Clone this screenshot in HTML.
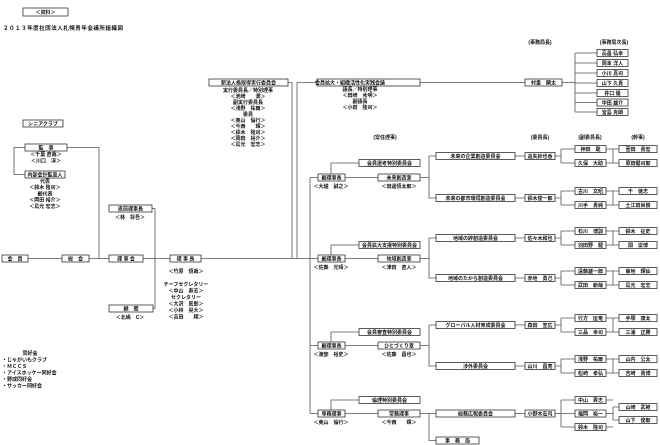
<!DOCTYPE html>
<html><head><meta charset="utf-8"><style>
html,body{margin:0;padding:0;background:#fff;width:660px;height:445px;overflow:hidden}
svg{display:block}
text{font-family:"Liberation Sans","Noto Sans CJK JP",sans-serif;font-size:5px;font-weight:bold;fill:#111;text-anchor:middle}
.l{text-anchor:start}
rect{fill:#fff;stroke:#333;stroke-width:.8}
path{fill:none;stroke:#555;stroke-width:.8}
</style></head><body>
<svg width="660" height="445" viewBox="0 0 660 445">
<rect x="23" y="8" width="45" height="8"/><text x="45.5" y="13.8">＜資料＞</text>
<text class="l" x="3" y="30" style="font-size:5.5px" textLength="120">２０１３年度社団法人札幌青年会議所組織図</text>

<!-- left -->
<rect x="23" y="120" width="40" height="7"/><text x="43" y="125.3">シニアクラブ</text>
<path d="M25 147.5H14V174.5H25 M67 147.5H99V258.5"/>
<rect x="25" y="144" width="42" height="7"/><text x="46" y="149.3">監　事</text>
<text x="46" y="156">＜千葉 直哉＞</text><text x="46" y="162.5">＜川口　淳＞</text>
<rect x="25" y="171" width="40" height="7"/><text x="45" y="176.3">内部会計監査人</text>
<text x="45" y="183">代表</text><text x="45" y="189">＜鈴木 隆司＞</text><text x="45" y="195.5">副代表</text><text x="45" y="201.5">＜岡田 裕介＞</text><text x="45" y="208">＜鳥元 宏志＞</text>

<path d="M28 258.5H62 M89 258.5H109 M143 258.5H170 M201 258.5H318 M152 208.5H155V308.5H153"/>
<rect x="2" y="255" width="26" height="7"/><text x="15" y="260.3">会　員</text>
<rect x="62" y="255" width="27" height="7"/><text x="75.5" y="260.3">総　会</text>
<rect x="109" y="255" width="34" height="7"/><text x="126" y="260.3">理 事 会</text>
<rect x="170" y="255" width="31" height="7"/><text x="185.5" y="260.3">理 事 長</text>
<rect x="109" y="205" width="43" height="7"/><text x="130.5" y="210.3">直前理事長</text>
<text x="130" y="219">＜林　将吾＞</text>
<rect x="109" y="305" width="44" height="7"/><text x="131" y="310.3">顧　問</text>
<text x="130" y="319">＜北嶋　C＞</text>
<text x="186" y="273">＜竹原　慎哉＞</text>
<text x="186" y="286">チーフセクレタリー</text><text x="186" y="292.5">＜中山　寿志＞</text><text x="186" y="299">セクレタリー</text><text x="186" y="305.5">＜大沢　辰郎＞</text><text x="186" y="312">＜小林　晃大＞</text><text x="186" y="318.5">＜吉田　　翔＞</text>

<text x="30" y="355">同好会</text>
<text class="l" x="2" y="361.5">・じゃがいもクラブ</text><text class="l" x="2" y="368">・ＭＣＣＳ</text><text class="l" x="2" y="374.5">・アイスホッケー同好会</text><text class="l" x="2" y="381">・野球同好会</text><text class="l" x="2" y="387.5">・サッカー同好会</text>

<!-- top -->
<path d="M288 82.5H292V258.5 M297 258.5V82.5H317 M420 82.5H525 M562 82.5H575 M575 53V112 M575 53H597 M575 63H597 M575 73H597 M575 83H597 M575 93H597 M575 102.5H597 M575 112H597"/>
<rect x="209" y="79" width="79" height="7"/><text x="248.5" y="84.3">新法人格取得実行委員会</text>
<text x="248" y="92">実行委員長／特別理事</text><text x="248" y="98">＜池崎　　潤＞</text><text x="248" y="104">副実行委員長</text><text x="248" y="110">＜浅野　祐爾＞</text><text x="248" y="116">委員</text><text x="248" y="122">＜奥山　倫行＞</text><text x="248" y="128">＜今西　　輝＞</text><text x="248" y="134">＜鈴木　隆司＞</text><text x="248" y="140">＜岡田　裕介＞</text><text x="248" y="146">＜鳥元　宏志＞</text>
<rect x="317" y="79" width="103" height="7"/><text x="350" y="84.3">会員拡大・組織活性化実践会議</text>
<text x="360" y="91">議長／特別理事</text><text x="360" y="97">＜田崎　秀明＞</text><text x="360" y="103">副議長</text><text x="360" y="109">＜小田　隆司＞</text>
<text x="540" y="44">(事務局長)</text><text x="614" y="44">(事務局次長)</text>
<rect x="525" y="79" width="37" height="7"/><text x="543.5" y="84.3">村重　顕太</text>
<rect x="597" y="49.5" width="31" height="7"/><text x="612.5" y="54.8">高畠 弘幸</text>
<rect x="597" y="59.5" width="31" height="7"/><text x="612.5" y="64.8">岡本 洋人</text>
<rect x="597" y="69.5" width="31" height="7"/><text x="612.5" y="74.8">小川 真司</text>
<rect x="597" y="79.5" width="31" height="7"/><text x="612.5" y="84.8">山下 久貴</text>
<rect x="597" y="89.5" width="31" height="7"/><text x="612.5" y="94.8">井口 優</text>
<rect x="597" y="99" width="31" height="7"/><text x="612.5" y="104.3">中田 雄介</text>
<rect x="597" y="108.5" width="31" height="7"/><text x="612.5" y="113.8">宮島 克朗</text>

<!-- right headers -->
<text x="385" y="139">(常任理事)</text><text x="540" y="139">(委員長)</text><text x="590" y="139">(副委員長)</text><text x="638" y="139">(幹事)</text>

<path d="M310 177.5V413.5"/>

<!-- G1 -->
<path d="M310 177.5H318 M331 174V163H359 M345 177.5H378 M420 177.5H429 M429 156V198 M429 156H436 M429 198H436 M515 156H525 M515 198H525
M555 156H561 M561 149V163 M561 149H575 M561 163H575 M606 149H613 M606 163H613 M613 149V163 M613 149H619 M613 163H619
M555 198H561 M561 191V205 M561 191H575 M561 205H575 M606 191H613 M606 205H613 M613 191V205 M613 191H619 M613 205H619"/>
<rect x="318" y="174" width="27" height="7"/><text x="331.5" y="179.3">副理事長</text><text x="331" y="188">＜大越　誠之＞</text>
<rect x="359" y="159.5" width="61" height="7"/><text x="389.5" y="164.8">会員選考特別委員会</text>
<rect x="378" y="174" width="42" height="7"/><text x="399" y="179.3">未来創造室</text><text x="399" y="188">＜田邊慎太郎＞</text>
<rect x="436" y="152.5" width="79" height="7"/><text x="475.5" y="157.8">未来の企業創造委員会</text>
<rect x="525" y="152.5" width="30" height="7"/><text x="540" y="157.8">追矢紗也香</text>
<rect x="575" y="145.5" width="31" height="7"/><text x="590.5" y="150.8">神田　聡</text>
<rect x="575" y="159.5" width="31" height="7"/><text x="590.5" y="164.8">久保　大助</text>
<rect x="619" y="145.5" width="38" height="7"/><text x="638" y="150.8">菅田　貴宏</text>
<rect x="619" y="159.5" width="38" height="7"/><text x="638" y="164.8">原田健司郎</text>
<rect x="436" y="194.5" width="79" height="7"/><text x="475.5" y="199.8">未来の都市環境創造委員会</text>
<rect x="525" y="194.5" width="30" height="7"/><text x="540" y="199.8">鈴木俊一郎</text>
<rect x="575" y="187.5" width="31" height="7"/><text x="590.5" y="192.8">古川　文昭</text>
<rect x="575" y="201.5" width="31" height="7"/><text x="590.5" y="206.8">川手　貴純</text>
<rect x="619" y="187.5" width="38" height="7"/><text x="638" y="192.8">千　徳志</text>
<rect x="619" y="201.5" width="38" height="7"/><text x="638" y="206.8">土江田尚樹</text>

<!-- G2 -->
<path d="M331 255V245H359 M345 258.5H378 M420 258.5H429 M429 238V278 M429 238H436 M429 278H436 M515 238H525 M515 278H525
M555 238H561 M561 231V245 M561 231H575 M561 245H575 M606 231H613 M606 245H613 M613 231V245 M613 231H619 M613 245H619
M555 278H561 M561 271V285 M561 271H575 M561 285H575 M606 271H613 M606 285H613 M613 271V285 M613 271H619 M613 285H619"/>
<rect x="318" y="255" width="27" height="7"/><text x="331.5" y="260.3">副理事長</text><text x="331" y="269">＜佐藤　光晴＞</text>
<rect x="359" y="241.5" width="61" height="7"/><text x="389.5" y="246.8">会員拡大支援特別委員会</text>
<rect x="378" y="255" width="42" height="7"/><text x="399" y="260.3">地域創造室</text><text x="399" y="269">＜津田　直人＞</text>
<rect x="436" y="234.5" width="79" height="7"/><text x="475.5" y="239.8">地域の絆創造委員会</text>
<rect x="525" y="234.5" width="30" height="7"/><text x="540" y="239.8">佐々木和也</text>
<rect x="575" y="227.5" width="31" height="7"/><text x="590.5" y="232.8">石川　博訓</text>
<rect x="575" y="241.5" width="31" height="7"/><text x="590.5" y="246.8">羽田野　健</text>
<rect x="619" y="227.5" width="38" height="7"/><text x="638" y="232.8">鈴木　征史</text>
<rect x="619" y="241.5" width="38" height="7"/><text x="638" y="246.8">関　崇博</text>
<rect x="436" y="274.5" width="79" height="7"/><text x="475.5" y="279.8">地域のたから創造委員会</text>
<rect x="525" y="274.5" width="30" height="7"/><text x="540" y="279.8">赤地　勇己</text>
<rect x="575" y="267.5" width="31" height="7"/><text x="590.5" y="272.8">遠藤雄一郎</text>
<rect x="575" y="281.5" width="31" height="7"/><text x="590.5" y="286.8">武田　新哉</text>
<rect x="619" y="267.5" width="38" height="7"/><text x="638" y="272.8">菊地　輝仙</text>
<rect x="619" y="281.5" width="38" height="7"/><text x="638" y="286.8">鳥元　宏志</text>

<!-- G3 -->
<path d="M310 345.5H318 M331 342V332H359 M345 345.5H378 M420 345.5H429 M429 325V366 M429 325H436 M429 366H436 M515 325H525 M515 366H525
M555 325H561 M561 318V332 M561 318H575 M561 332H575 M606 318H613 M606 332H613 M613 318V332 M613 318H619 M613 332H619
M555 366H561 M561 359V373 M561 359H575 M561 373H575 M606 359H613 M606 373H613 M613 359V373 M613 359H619 M613 373H619"/>
<rect x="318" y="342" width="27" height="7"/><text x="331.5" y="347.3">副理事長</text><text x="331" y="356">＜渡部　裕史＞</text>
<rect x="359" y="328.5" width="61" height="7"/><text x="389.5" y="333.8">会員審査特別委員会</text>
<rect x="378" y="342" width="42" height="7"/><text x="399" y="347.3">ひとづくり室</text><text x="399" y="356">＜佐藤　昌也＞</text>
<rect x="436" y="321.5" width="79" height="7"/><text x="475.5" y="326.8">グローバル人材育成委員会</text>
<rect x="525" y="321.5" width="30" height="7"/><text x="540" y="326.8">森田　宣広</text>
<rect x="575" y="314.5" width="31" height="7"/><text x="590.5" y="319.8">行方　匡竜</text>
<rect x="575" y="328.5" width="31" height="7"/><text x="590.5" y="333.8">三品　幸司</text>
<rect x="619" y="314.5" width="38" height="7"/><text x="638" y="319.8">手塚　康太</text>
<rect x="619" y="328.5" width="38" height="7"/><text x="638" y="333.8">三浦　正勝</text>
<rect x="436" y="362.5" width="79" height="7"/><text x="475.5" y="367.8">渉外委員会</text>
<rect x="525" y="362.5" width="30" height="7"/><text x="540" y="367.8">山川　昌寛</text>
<rect x="575" y="355.5" width="31" height="7"/><text x="590.5" y="360.8">浅野　祐爾</text>
<rect x="575" y="369.5" width="31" height="7"/><text x="590.5" y="374.8">松崎　孝弘</text>
<rect x="619" y="355.5" width="38" height="7"/><text x="638" y="360.8">山内　公太</text>
<rect x="619" y="369.5" width="38" height="7"/><text x="638" y="374.8">吉崎　貴博</text>

<!-- G4 -->
<path d="M310 413.5H318 M331 410V400H359 M345 413.5H378 M420 413.5H436 M429 413.5V440.5H436 M515 413.5H525
M555 413.5H575 M561 400V427 M561 400H575 M561 427H575 M606 400H613 M606 413.5H613 M606 427H613 M613 407V420 M613 407H619 M613 420H619"/>
<rect x="318" y="410" width="27" height="7"/><text x="331.5" y="415.3">専務理事</text><text x="331" y="424">＜奥山　倫行＞</text>
<rect x="359" y="396.5" width="61" height="7"/><text x="389.5" y="401.8">倫理特別委員会</text>
<rect x="378" y="410" width="42" height="7"/><text x="399" y="415.3">常務理事</text><text x="399" y="424">＜今西　　輝＞</text>
<rect x="436" y="410" width="79" height="7"/><text x="475.5" y="415.3">総務広報委員会</text>
<rect x="525" y="410" width="30" height="7"/><text x="540" y="415.3">小野木宏司</text>
<rect x="575" y="396.5" width="31" height="7"/><text x="590.5" y="401.8">中山　寿志</text>
<rect x="575" y="410" width="31" height="7"/><text x="590.5" y="415.3">福岡　裕一</text>
<rect x="575" y="423.5" width="31" height="7"/><text x="590.5" y="428.8">鈴木　隆司</text>
<rect x="619" y="403.5" width="38" height="7"/><text x="638" y="408.8">山崎　武範</text>
<rect x="619" y="416.5" width="38" height="7"/><text x="638" y="421.8">山下　俊郎</text>
<rect x="436" y="437" width="43" height="7"/><text x="457.5" y="442.3">事　務　局</text>
</svg>
</body></html>
